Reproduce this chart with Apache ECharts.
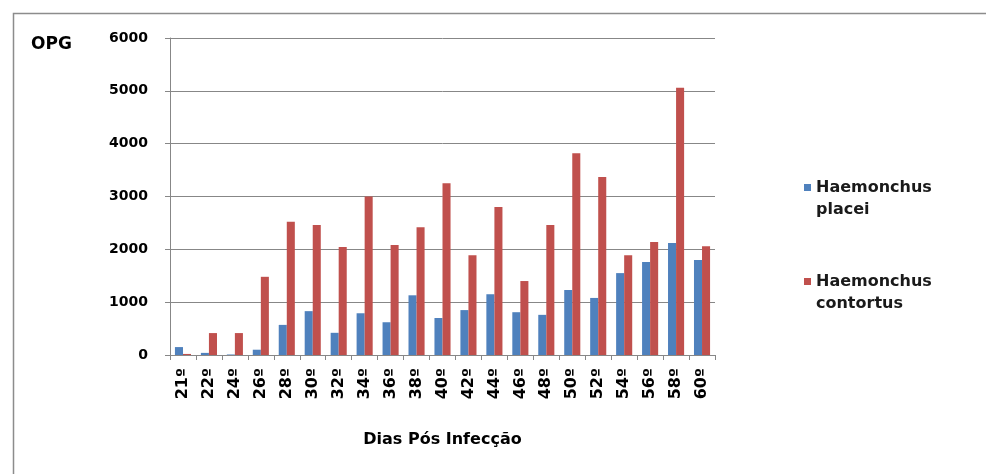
<!DOCTYPE html>
<html>
<head>
<meta charset="utf-8">
<script src="https://cdn.jsdelivr.net/npm/echarts@6/dist/echarts.min.js"></script>
<style>html,body{margin:0;padding:0;background:#fff}#c{width:986px;height:474px}</style>
</head>
<body>
<div id="c"></div>
<script>
var categories = ['21º','22º','24º','26º','28º','30º','32º','34º','36º','38º','40º','42º','44º','46º','48º','50º','52º','54º','56º','58º','60º'];
var placei    = [150, 40, 10, 100, 570, 830, 420, 790, 620, 1130, 700, 850, 1150, 810, 760, 1230, 1080, 1550, 1760, 2120, 1800];
var contortus = [20, 415, 415, 1480, 2520, 2460, 2045, 3000, 2080, 2420, 3250, 1890, 2800, 1400, 2460, 3820, 3370, 1890, 2140, 5060, 2060];
var yTicks = [0, 1000, 2000, 3000, 4000, 5000, 6000];

var chart = echarts.init(document.getElementById('c'));
var font = 'DejaVu Sans, sans-serif';
var legendIcon = 'path://M0,0L7,0L7,7L0,7Z M0,29.95L0.05,29.95L0.05,30L0,30Z';
chart.setOption({
  animation: false,
  backgroundColor: '#fff',
  graphic: [{
    type: 'rect', left: 11, top: 11, shape: {width: 990, height: 480},
    style: {fill: 'none', stroke: '#8c8c8c', lineWidth: 1.5}
  }, {
    type: 'text', left: 31, top: 36,
    style: {text: 'OPG', font: 'bold 17px ' + font, fill: '#000'}
  }],
  grid: {left: 170, right: 271, top: 38, bottom: 119, containLabel: false},
  legend: {
    orient: 'vertical', left: 799, top: 172,
    itemWidth: 7, itemHeight: 30, itemGap: 50,
    icon: legendIcon,
    textStyle: {fontFamily: font, fontSize: 16, fontWeight: 'bold', color: '#1a1a1a', lineHeight: 22},
    formatter: function (n) { return n.replace(' ', '\n'); },
    data: ['Haemonchus placei', 'Haemonchus contortus']
  },
  xAxis: {
    type: 'category', data: categories,
    name: 'Dias Pós Infecção', nameLocation: 'middle', nameGap: 77,
    nameTextStyle: {fontFamily: font, fontSize: 16, fontWeight: 'bold', color: '#000'},
    axisLine: {lineStyle: {color: '#878787'}},
    axisTick: {show: true, alignWithLabel: false, lineStyle: {color: '#878787'}},
    axisLabel: {rotate: 90, interval: 0, fontFamily: font, fontSize: 16, fontWeight: 'bold', color: '#000', margin: 13}
  },
  yAxis: {
    type: 'value', min: 0, max: 6000, interval: 1000,
    axisLine: {show: true, lineStyle: {color: '#878787'}},
    axisTick: {show: true, lineStyle: {color: '#878787'}},
    axisLabel: {fontFamily: font, fontSize: 14, fontWeight: 'bold', color: '#000', margin: 22,
      formatter: function (v) { return yTicks.indexOf(v) >= 0 ? String(v) : ''; }},
    splitLine: {lineStyle: {color: '#878787'}}
  },
  series: [{
    name: 'Haemonchus placei', type: 'bar', data: placei,
    itemStyle: {color: '#4F81BD'}, barGap: '0%', barCategoryGap: '38%'
  }, {
    name: 'Haemonchus contortus', type: 'bar', data: contortus,
    itemStyle: {color: '#C0504D'}, barGap: '0%', barCategoryGap: '38%'
  }]
});
</script>
</body>
</html>
